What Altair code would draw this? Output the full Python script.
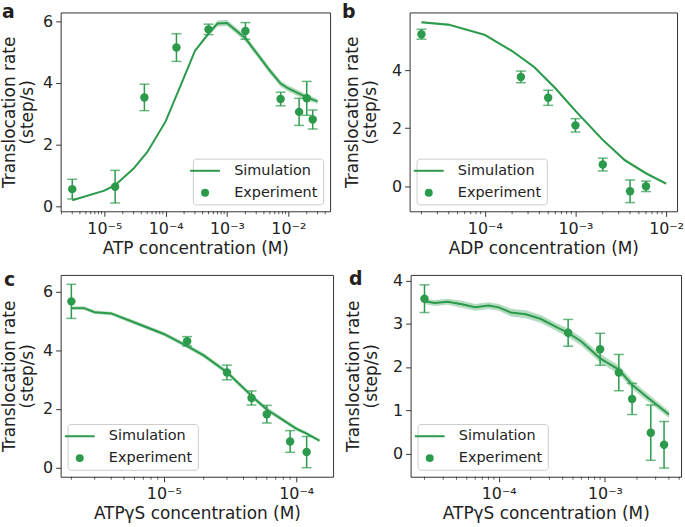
import altair as alt
import pandas as pd

GREEN = "#2b9a4b"
TEXT = "#222222"
FRAME = "#333333"

# ---------------- Panel a : ATP ----------------
a_exp_x = [3e-6, 1.5e-5, 4.5e-5, 1.5e-4, 5e-4, 2e-3, 7.5e-3, 1.5e-2, 2e-2, 2.5e-2]
a_exp_y = [0.55, 0.63, 3.53, 5.15, 5.74, 5.69, 3.48, 3.06, 3.50, 2.81]
a_exp_e = [0.32, 0.53, 0.43, 0.45, 0.17, 0.27, 0.22, 0.44, 0.55, 0.31]
a_sim_x = [3e-6, 1e-5, 1.5e-5, 3e-5, 5e-5, 1e-4, 2e-4, 3e-4, 5e-4, 7e-4, 1e-3,
           2e-3, 5e-3, 7.5e-3, 1e-2, 2e-2, 3e-2]
a_sim_y = [0.19, 0.50, 0.68, 1.22, 1.75, 2.75, 4.19, 5.04, 5.60, 5.93, 5.95,
           5.45, 4.40, 3.98, 3.82, 3.53, 3.40]
a_sim_b = [0.02, 0.02, 0.02, 0.03, 0.03, 0.03, 0.04, 0.05, 0.06, 0.10, 0.10,
           0.10, 0.10, 0.10, 0.10, 0.10, 0.08]

# ---------------- Panel b : ADP ----------------
b_exp_x = [2e-5, 2.5e-4, 5e-4, 1e-3, 2e-3, 4e-3, 6e-3]
b_exp_y = [5.24, 3.77, 3.05, 2.10, 0.75, -0.17, 0.00]
b_exp_e = [0.17, 0.20, 0.26, 0.23, 0.22, 0.39, 0.18]
b_sim_x = [2e-5, 4e-5, 1e-4, 2e-4, 3.5e-4, 6e-4, 1e-3, 2e-3, 3.5e-3, 6e-3, 1e-2]
b_sim_y = [5.65, 5.57, 5.22, 4.66, 4.11, 3.38, 2.60, 1.60, 0.90, 0.45, 0.09]
b_sim_b = [0.04, 0.04, 0.04, 0.04, 0.04, 0.05, 0.05, 0.05, 0.05, 0.05, 0.04]

# ---------------- Panel c : ATPγS (low range) ----------------
c_exp_x = [2e-6, 1.5e-5, 3e-5, 4.6e-5, 6e-5, 9e-5, 1.2e-4]
c_exp_y = [5.66, 4.30, 3.24, 2.37, 1.82, 0.89, 0.53]
c_exp_e = [0.58, 0.16, 0.25, 0.24, 0.30, 0.37, 0.53]
c_sim_x = [2e-6, 2.5e-6, 3e-6, 4e-6, 6e-6, 1e-5, 1.5e-5, 2e-5, 3e-5, 5e-5,
           6e-5, 1e-4, 1.2e-4, 1.5e-4]
c_sim_y = [5.43, 5.43, 5.29, 5.25, 4.94, 4.55, 4.14, 3.82, 3.25, 2.29,
           1.98, 1.33, 1.16, 0.92]
c_sim_b = [0.06, 0.06, 0.06, 0.06, 0.07, 0.07, 0.08, 0.08, 0.08, 0.08,
           0.08, 0.07, 0.06, 0.05]

# ---------------- Panel d : ATPγS (high range) ----------------
d_exp_x = [2e-5, 4.5e-4, 9e-4, 1.35e-3, 1.8e-3, 2.7e-3, 3.6e-3]
d_exp_y = [3.58, 2.79, 2.41, 1.87, 1.26, 0.48, 0.20]
d_exp_e = [0.32, 0.31, 0.37, 0.42, 0.36, 0.64, 0.54]
d_sim_x = [2e-5, 2.5e-5, 3.3e-5, 4.5e-5, 6e-5, 8e-5, 1e-4, 1.3e-4, 1.8e-4,
           2.5e-4, 3.5e-4, 4.5e-4, 6e-4, 9e-4, 1.35e-3, 1.8e-3, 2.5e-3, 4e-3]
d_sim_y = [3.52, 3.48, 3.51, 3.45, 3.38, 3.42, 3.38, 3.26, 3.22,
           3.11, 2.92, 2.79, 2.59, 2.20, 1.94, 1.59, 1.30, 0.90]
d_sim_b = [0.06, 0.07, 0.07, 0.08, 0.08, 0.08, 0.08, 0.09, 0.09,
           0.09, 0.09, 0.10, 0.10, 0.10, 0.10, 0.10, 0.09, 0.08]

SERIES = ["Simulation", "Experiment"]
LINE_SYMBOL = "M-3.75,-0.25L3.75,-0.25L3.75,0.25L-3.75,0.25Z"

LABEL_EXPR = (
    "round(log(datum.value)/LN10) == -6 ? '10⁻⁶' : "
    "round(log(datum.value)/LN10) == -5 ? '10⁻⁵' : "
    "round(log(datum.value)/LN10) == -4 ? '10⁻⁴' : "
    "round(log(datum.value)/LN10) == -3 ? '10⁻³' : "
    "round(log(datum.value)/LN10) == -2 ? '10⁻²' : '10⁻¹'"
)


def minor_ticks(lo, hi):
    vals = []
    for e in range(-7, 0):
        for m in range(2, 10):
            v = m * 10.0 ** e
            if lo <= v <= hi:
                vals.append(v)
    return vals


def panel(letter, lx, ly, ex, ey, ee, sx, sy, sb, xdom, ydom, xticks, yticks,
          xtitle, w, h, lorient, ytpad):
    exp = pd.DataFrame({
        "x": ex, "y": ey,
        "lo": [v - e for v, e in zip(ey, ee)],
        "hi": [v + e for v, e in zip(ey, ee)],
        "series": ["Experiment"] * len(ex),
    })
    sim = pd.DataFrame({
        "x": sx, "y": sy,
        "lo": [v - b for v, b in zip(sy, sb)],
        "hi": [v + b for v, b in zip(sy, sb)],
    })
    xs = alt.Scale(type="log", domain=xdom, nice=False)
    ys = alt.Scale(domain=ydom, nice=False, zero=False)
    xax = alt.Axis(values=xticks, labelExpr=LABEL_EXPR, title=xtitle,
                   tickSize=5, labelPadding=4, titlePadding=4,
                   labelFlush=False, labelOverlap=False)
    yax = alt.Axis(values=yticks, title=["Translocation rate", "(step/s)"],
                   tickSize=5, labelPadding=3, titlePadding=ytpad,
                   titleLineHeight=18)

    band = alt.Chart(sim).mark_area(color=GREEN, opacity=0.35).encode(
        x=alt.X("x:Q", scale=xs, axis=xax),
        y=alt.Y("lo:Q", scale=ys, axis=yax),
        y2="hi:Q",
    )
    line = alt.Chart(sim).mark_line(color=GREEN, strokeWidth=2).encode(
        x="x:Q", y="y:Q")
    bars = alt.Chart(exp).mark_rule(color=GREEN, strokeWidth=1.5).encode(
        x="x:Q", y="lo:Q", y2="hi:Q")
    cap_lo = alt.Chart(exp).mark_tick(color=GREEN, orient="horizontal",
                                      size=10, thickness=1.5).encode(
        x="x:Q", y="lo:Q")
    cap_hi = alt.Chart(exp).mark_tick(color=GREEN, orient="horizontal",
                                      size=10, thickness=1.5).encode(
        x="x:Q", y="hi:Q")
    pts = alt.Chart(exp).mark_point(filled=True, size=72, opacity=1,
                                    color=GREEN).encode(
        x="x:Q", y="y:Q",
        shape=alt.Shape(
            "series:N",
            scale=alt.Scale(domain=SERIES, range=[LINE_SYMBOL, "circle"]),
            legend=alt.Legend(
                title=None, orient=lorient, offset=7,
                symbolSize=64, symbolFillColor=GREEN,
                symbolStrokeWidth=0, symbolOpacity=1,
                labelFont="DejaVu Sans", labelFontSize=14.5,
                labelColor=TEXT, labelOffset=22,
                padding=5, rowPadding=7,
                strokeColor="#cccccc", fillColor="rgba(255,255,255,0.85)",
                cornerRadius=3,
            ),
        ),
    )
    minor = alt.Chart(pd.DataFrame({"m": minor_ticks(*xdom)})).mark_rule(
        color=FRAME, strokeWidth=0.8).encode(
        x="m:Q", y=alt.value(h), y2=alt.value(h + 3))
    label = alt.Chart(pd.DataFrame({"t": [letter]})).mark_text(
        font="DejaVu Sans", fontWeight="bold", fontSize=19,
        color="#231f20", align="left", baseline="alphabetic").encode(
        x=alt.value(lx), y=alt.value(ly), text="t:N")
    return alt.layer(band, line, bars, cap_lo, cap_hi, pts, minor,
                     label).properties(width=w, height=h).resolve_scale(
        shape="independent").resolve_legend(shape="independent")


pa = panel("a", -59, 6, a_exp_x, a_exp_y, a_exp_e, a_sim_x, a_sim_y, a_sim_b,
           [1.94e-6, 0.048], [-0.17, 6.29], [1e-5, 1e-4, 1e-3, 1e-2],
           [0, 2, 4, 6], "ATP concentration (M)", 271, 200, "bottom-right", 6)
pb = panel("b", -68, 6, b_exp_x, b_exp_y, b_exp_e, b_sim_x, b_sim_y, b_sim_b,
           [1.48e-5, 0.0132], [-0.86, 5.99], [1e-4, 1e-3, 1e-2],
           [0, 2, 4], "ADP concentration (M)", 269, 200, "bottom-left", 12)
pc = panel("c", -57, 11, c_exp_x, c_exp_y, c_exp_e, c_sim_x, c_sim_y, c_sim_b,
           [1.66e-6, 1.9e-4], [-0.31, 6.56], [1e-5, 1e-4],
           [0, 2, 4, 6], "ATPγS concentration (M)", 274, 203, "bottom-left", 6)
pd_ = panel("d", -62, 10, d_exp_x, d_exp_y, d_exp_e, d_sim_x, d_sim_y, d_sim_b,
            [1.48e-5, 5.2e-3], [-0.54, 4.13], [1e-4, 1e-3],
            [0, 1, 2, 3, 4], "ATPγS concentration (M)", 272, 203,
            "bottom-left", 12)

row1 = alt.hconcat(pa, pb, spacing=10).resolve_scale(
    shape="independent").resolve_legend(shape="independent")
row2 = alt.hconcat(pc, pd_, spacing=10).resolve_scale(
    shape="independent").resolve_legend(shape="independent")

chart = alt.vconcat(row1, row2, spacing=12).resolve_scale(
    shape="independent").resolve_legend(shape="independent").properties(
    padding={"left": 0, "top": 1, "right": 0, "bottom": 0}
).configure_view(
    stroke=FRAME, strokeWidth=1
).configure_axis(
    grid=False, domain=False, tickColor=FRAME, tickWidth=1,
    labelFont="DejaVu Sans", labelFontSize=16, labelColor=TEXT,
    titleFont="DejaVu Sans", titleFontSize=17, titleFontWeight="normal",
    titleColor=TEXT,
)

chart.save("out.html", embed_options={"renderer": "svg", "actions": False})
